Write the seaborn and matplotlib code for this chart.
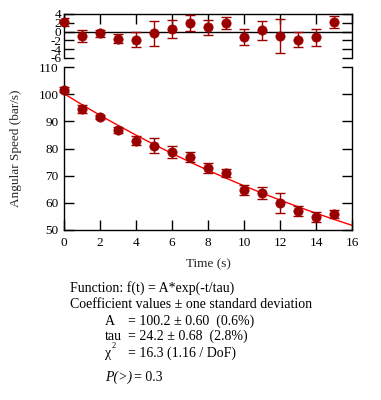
import numpy as np
import pandas as pd
import seaborn as sns
import matplotlib.pyplot as plt

# Measured data
time_s = [0, 1, 2, 3, 4, 5, 6, 7, 8, 9, 10, 11, 12, 13, 14, 15]
speed = [101.6, 94.5, 91.6, 86.8, 82.9, 81.0, 78.7, 76.9,
         72.8, 71.0, 64.8, 63.6, 59.9, 56.9, 54.9, 56.0]
speed_err = [0.9, 1.4, 0.8, 1.0, 1.7, 2.8, 2.1, 1.8,
             1.7, 1.4, 1.8, 2.1, 3.8, 1.8, 1.9, 1.4]
residual = [2.2, -1.0, -0.4, -1.6, -1.8, -0.4, 0.6, 1.9,
            1.0, 1.9, -1.3, 0.3, -1.0, -1.8, -1.3, 2.2]

# Fit parameters
fit_A = 100.2
fit_tau = 24.2
fit_t = np.linspace(0, 16, 200)

df = pd.DataFrame({"t": time_s, "v": speed, "err": speed_err, "res": residual})
fit_df = pd.DataFrame({"t": fit_t, "v": fit_A * np.exp(-fit_t / fit_tau)})

sns.set_theme(style="ticks")
plt.rcParams["font.family"] = ["Liberation Serif", "DejaVu Serif"]

dark = "#9b0000"
fs_tick = 9.5
fs_lab = 9.5
fs_txt = 10

fig = plt.figure(figsize=(3.81, 4.0), dpi=100)
ax = fig.add_axes([64 / 381, 170 / 400, 288 / 381, 163 / 400])
axr = fig.add_axes([64 / 381, 342 / 400, 288 / 381, 44 / 400])

# Main panel
sns.lineplot(data=fit_df, x="t", y="v", color="red", linewidth=1.0, ax=ax)
ax.errorbar(df["t"], df["v"], yerr=df["err"], fmt="none", ecolor=dark,
            elinewidth=1.0, capsize=3.6, capthick=1.0, zorder=3, clip_on=False)
sns.scatterplot(data=df, x="t", y="v", color=dark, s=45, edgecolor=dark,
                linewidth=0.5, ax=ax, zorder=4, clip_on=False)
ax.set_xlim(0, 16)
ax.set_ylim(50, 110)
ax.set_xticks(range(0, 17, 2))
ax.set_yticks(range(50, 111, 10))
ax.set_xlabel("Time (s)", fontsize=fs_lab, labelpad=7)
ax.set_ylabel("Angular Speed (bar/s)", fontsize=fs_lab, labelpad=12)
ax.tick_params(direction="in", length=7, width=1, labelsize=fs_tick,
               right=True, colors="black")
ax.tick_params(axis="x", pad=5)
ax.tick_params(axis="y", pad=4)
for side in ["left", "bottom", "right"]:
    ax.spines[side].set_linewidth(1.0)
    ax.spines[side].set_color("black")
ax.spines["top"].set_visible(False)

# Residual panel
axr.axhline(0, color="black", linewidth=1.0, zorder=1)
axr.errorbar(df["t"], df["res"], yerr=df["err"], fmt="none", ecolor=dark,
             elinewidth=1.0, capsize=3.6, capthick=1.0, zorder=3)
sns.scatterplot(data=df, x="t", y="res", color=dark, s=45, edgecolor=dark,
                linewidth=0.5, ax=axr, zorder=4, clip_on=False)
axr.set_xlim(0, 16)
axr.set_ylim(-6, 4)
axr.set_xticks(range(0, 17, 2))
axr.set_yticks([4, 2, 0, -2, -4, -6])
axr.set_yticklabels(["4", "2", "0", "-2", "-4", "-6"])
axr.set_xlabel("")
axr.set_ylabel("")
axr.tick_params(direction="in", length=7, width=1, labelsize=fs_tick,
                right=True, top=True, bottom=False, labelbottom=False,
                colors="black", pad=2)
for side in ["left", "top", "right"]:
    axr.spines[side].set_linewidth(1.0)
    axr.spines[side].set_color("black")
axr.spines["bottom"].set_visible(False)

# Fit summary text
tk = dict(fontsize=fs_txt, color="black", va="baseline")
fig.text(70 / 381, 1 - 292 / 400, "Function: f(t) = A*exp(-t/tau)", **tk)
fig.text(70 / 381, 1 - 308 / 400, "Coefficient values \u00b1 one standard deviation", **tk)
rows = [
    ("A", "= 100.2 \u00b1 0.60  (0.6%)", 325, 128),
    ("tau", "= 24.2 \u00b1 0.68  (2.8%)", 340, 128),
    ("\u03c7", "= 16.3 (1.16 / DoF)", 357, 128),
    ("P(>)", "= 0.3", 381, 134),
]
for name, val, ypix, xval in rows:
    style = "italic" if name == "P(>)" else "normal"
    fig.text(105 / 381, 1 - ypix / 400, name, style=style, **tk)
    fig.text(xval / 381, 1 - ypix / 400, val, **tk)
fig.text(112 / 381, 1 - 348 / 400, "2", fontsize=fs_txt - 4, color="black")

fig.savefig("out.png", dpi=100)
